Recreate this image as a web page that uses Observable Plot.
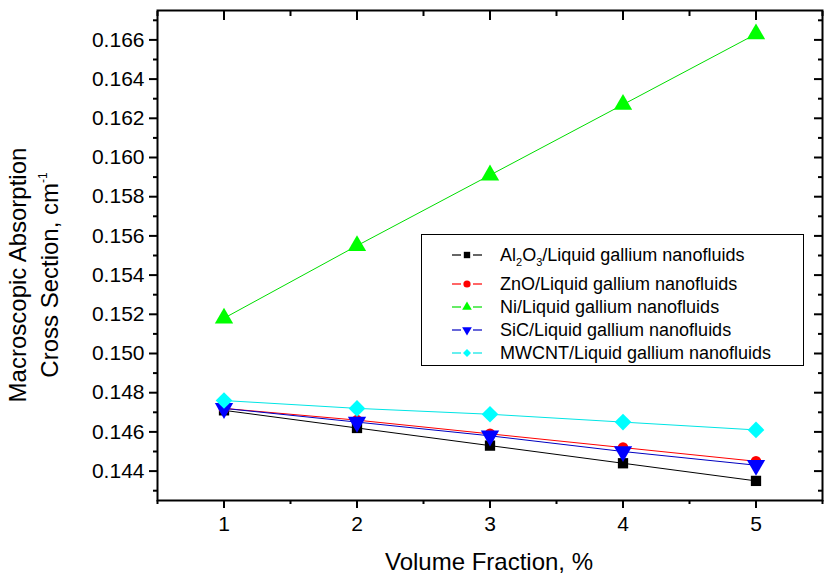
<!DOCTYPE html>
<html>
<head>
<meta charset="utf-8">
<script src="https://cdn.jsdelivr.net/npm/d3@7"></script>
<script src="https://cdn.jsdelivr.net/npm/@observablehq/plot@0.6"></script>
<style>
  html, body { margin: 0; padding: 0; background: #fff; }
  #wrap { position: relative; width: 834px; height: 584px; font-family: "Liberation Sans", Arial, sans-serif; }
  #legend { position: absolute; left: 421px; top: 234px; width: 381px; height: 130px; border: 1.5px solid #000; background: #fff; box-sizing: content-box; }
  .row { position: absolute; left: 28px; height: 22px; display: flex; align-items: center; font-size: 18px; color: #000; white-space: nowrap; }
  .row svg { margin-right: 16px; }
  sub { font-size: 11px; vertical-align: -5px; line-height: 0; }
</style>
</head>
<body>
<div id="wrap"></div>
<script>
const volumeFraction = [1, 2, 3, 4, 5];
const seriesNames = [
  "Al2O3/Liquid gallium nanofluids",
  "ZnO/Liquid gallium nanofluids",
  "Ni/Liquid gallium nanofluids",
  "SiC/Liquid gallium nanofluids",
  "MWCNT/Liquid gallium nanofluids"
];
const al2o3 = [0.1471, 0.1462, 0.1453, 0.1444, 0.1435];
const zno   = [0.1472, 0.1466, 0.1459, 0.1452, 0.1445];
const ni    = [0.1518, 0.1555, 0.1591, 0.1627, 0.1663];
const sic   = [0.1472, 0.1465, 0.1458, 0.1450, 0.1443];
const mwcnt = [0.1476, 0.1472, 0.1469, 0.1465, 0.1461];
const xTicks = [1, 2, 3, 4, 5];
const xMinorTicks = [0.5, 1.5, 2.5, 3.5, 4.5, 5.5];
const yTicks = [0.144, 0.146, 0.148, 0.150, 0.152, 0.154, 0.156, 0.158, 0.160, 0.162, 0.164, 0.166];
const yMinorTicks = [0.143, 0.145, 0.147, 0.149, 0.151, 0.153, 0.155, 0.157, 0.159, 0.161, 0.163, 0.165, 0.167];

const styles = [
  {line: "#000000", fill: "#000000", symbol: "square", r: 5.8, rotate: 0},
  {line: "#ff0000", fill: "#ff0000", symbol: "circle", r: 5.3, rotate: 0},
  {line: "#00dd00", fill: "#00ff00", symbol: "triangle", r: 6.8, rotate: 0},
  {line: "#0000c0", fill: "#0000ff", symbol: "triangle", r: 6.8, rotate: 180},
  {line: "#00e5e5", fill: "#00ffff", symbol: "diamond2", r: 7.5, rotate: 0}
];
const allValues = [al2o3, zno, ni, sic, mwcnt];
const rows = [];
allValues.forEach((vals, i) => vals.forEach((v, j) => rows.push({series: seriesNames[i], idx: i, x: volumeFraction[j], y: v})));

const marks = [
  Plot.frame({stroke: "#000", strokeWidth: 2}),
  Plot.axisX({ticks: xTicks, tickSize: 8, tickPadding: 8, tickFormat: d3.format("d"), strokeWidth: 2, fontSize: 21, label: null}),
  Plot.axisX({ticks: xMinorTicks, tickSize: 4, strokeWidth: 2, fill: "none", label: null}),
  Plot.axisX({anchor: "top", ticks: xTicks, tickSize: -9, strokeWidth: 2, fill: "none", label: null}),
  Plot.axisX({anchor: "top", ticks: xMinorTicks, tickSize: -5, strokeWidth: 2, fill: "none", label: null}),
  Plot.axisY({ticks: yTicks, tickSize: 8, tickPadding: 5, tickFormat: d3.format(".3f"), strokeWidth: 2, fontSize: 21, label: null}),
  Plot.axisY({ticks: yMinorTicks, tickSize: 4, strokeWidth: 2, fill: "none", label: null}),
  Plot.axisY({anchor: "right", ticks: yTicks, tickSize: -9, strokeWidth: 2, fill: "none", label: null}),
  Plot.axisY({anchor: "right", ticks: yMinorTicks, tickSize: -5, strokeWidth: 2, fill: "none", label: null})
];
styles.forEach((s, i) => {
  marks.push(Plot.line(rows.filter(d => d.idx === i), {x: "x", y: "y", stroke: s.line, strokeWidth: 1}));
});
styles.forEach((s, i) => {
  marks.push(Plot.dot(rows.filter(d => d.idx === i), {x: "x", y: "y", symbol: s.symbol, r: s.r, fill: s.fill, stroke: "none", rotate: s.rotate}));
});

const chart = Plot.plot({
  width: 834,
  height: 584,
  marginLeft: 157,
  marginRight: 12,
  marginTop: 10,
  marginBottom: 84,
  style: {fontFamily: "'Liberation Sans', Arial, sans-serif", background: "#fff", color: "#000", overflow: "visible"},
  x: {domain: [0.5, 5.5]},
  y: {domain: [0.1425, 0.1675]},
  marks
});

const svg = d3.select(chart);
svg.append("text")
  .attr("x", 489).attr("y", 570)
  .attr("text-anchor", "middle")
  .attr("font-size", 24)
  .attr("fill", "#000")
  .text("Volume Fraction, %");
svg.append("text")
  .attr("transform", "translate(26,275) rotate(-90)")
  .attr("text-anchor", "middle")
  .attr("font-size", 24)
  .attr("fill", "#000")
  .text("Macroscopic Absorption");
const yt2 = svg.append("text")
  .attr("transform", "translate(58,275) rotate(-90)")
  .attr("text-anchor", "middle")
  .attr("font-size", 24)
  .attr("fill", "#000");
yt2.append("tspan").text("Cross Section, cm");
yt2.append("tspan").attr("font-size", 12).attr("dy", -11).text("-1");

const wrap = document.getElementById("wrap");
wrap.appendChild(chart);

// Legend
const legend = document.createElement("div");
legend.id = "legend";
wrap.appendChild(legend);
const legendLabels = [
  "Al<sub>2</sub>O<sub>3</sub>/Liquid gallium nanofluids",
  "ZnO/Liquid gallium nanofluids",
  "Ni/Liquid gallium nanofluids",
  "SiC/Liquid gallium nanofluids",
  "MWCNT/Liquid gallium nanofluids"
];
const rowTops = [9, 38, 61, 84, 107];
styles.forEach((s, i) => {
  const row = document.createElement("div");
  row.className = "row";
  row.style.top = rowTops[i] + "px";
  const ns = "http://www.w3.org/2000/svg";
  const sv = document.createElementNS(ns, "svg");
  sv.setAttribute("width", 34); sv.setAttribute("height", 16);
  const ln1 = document.createElementNS(ns, "line");
  ln1.setAttribute("x1", 2); ln1.setAttribute("x2", 11); ln1.setAttribute("y1", 8); ln1.setAttribute("y2", 8);
  ln1.setAttribute("stroke", s.line); ln1.setAttribute("stroke-width", 1.2);
  const ln2 = document.createElementNS(ns, "line");
  ln2.setAttribute("x1", 23); ln2.setAttribute("x2", 32); ln2.setAttribute("y1", 8); ln2.setAttribute("y2", 8);
  ln2.setAttribute("stroke", s.line); ln2.setAttribute("stroke-width", 1.2);
  const sym = {square: d3.symbolSquare, circle: d3.symbolCircle, triangle: d3.symbolTriangle, diamond2: d3.symbolDiamond2}[s.symbol];
  const p = document.createElementNS(ns, "path");
  p.setAttribute("d", d3.symbol(sym, Math.PI * 3.6 * 3.6)());
  p.setAttribute("fill", s.fill);
  p.setAttribute("transform", `translate(17,8) rotate(${s.rotate})`);
  sv.appendChild(ln1); sv.appendChild(ln2); sv.appendChild(p);
  row.appendChild(sv);
  const span = document.createElement("span");
  span.innerHTML = legendLabels[i];
  row.appendChild(span);
  legend.appendChild(row);
});
</script>
</body>
</html>
